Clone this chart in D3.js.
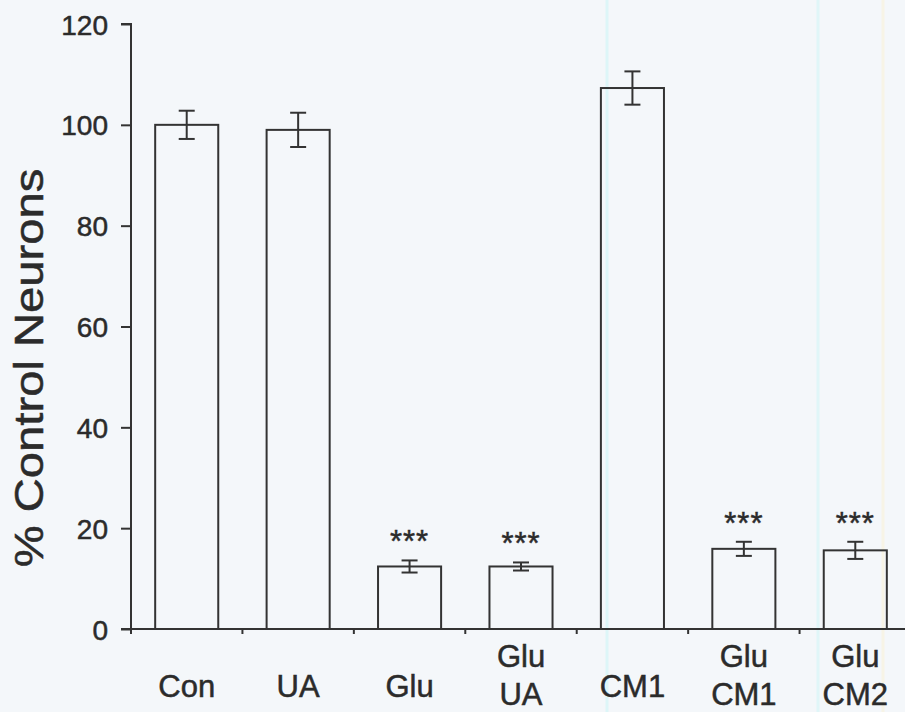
<!DOCTYPE html>
<html>
<head>
<meta charset="utf-8">
<script src="https://cdn.jsdelivr.net/npm/d3@7"></script>
<style>
  html, body { margin: 0; padding: 0; background: #f4f7fa; }
  svg { display: block; }
  text { font-family: "Liberation Sans", Arial, sans-serif; fill: #2b2b2b; stroke: #2b2b2b; stroke-width: 0.5px; }
</style>
</head>
<body>
<svg id="chart" width="905" height="712"></svg>
<script>
// Treatment groups (a space separates the two label lines)
const categories = ["Con", "UA", "Glu", "Glu UA", "CM1", "Glu CM1", "Glu CM2"];
// Surviving neurons, % of control (mean and SEM)
const means = [100, 99.0, 12.4, 12.4, 107.3, 15.9, 15.6];
const errors = [2.8, 3.4, 1.2, 0.8, 3.3, 1.4, 1.7];
// Significance markers versus control
const significance = ["", "", "***", "***", "", "***", "***"];
// Y axis ticks
const yTicks = [0, 20, 40, 60, 80, 100, 120];
const yLabel = "% Control Neurons";

const width = 905, height = 712;
const margin = { left: 131, top: 24, bottom: 83 };
const plotBottom = height - margin.bottom;   // y of zero line
const ink = "#333";

const svg = d3.select("#chart");

// paper background
svg.append("rect").attr("width", width).attr("height", height).attr("fill", "#f4f7fa");
// faint vertical streaks in the paper
[[607, "#ddf6f8"], [818, "#e0f6f8"], [883, "#f7f4e6"]].forEach(([x, c]) => {
  svg.append("line").attr("x1", x).attr("x2", x).attr("y1", 0).attr("y2", height)
    .attr("stroke", c).attr("stroke-width", 3);
});

const x = d3.scaleBand()
  .domain(categories)
  .range([margin.left, margin.left + 780])
  .paddingInner(0.434)
  .paddingOuter(0.217);

const y = d3.scaleLinear().domain([0, 120]).range([plotBottom, margin.top]);

// bars
svg.append("g").selectAll("rect")
  .data(categories)
  .join("rect")
  .attr("x", d => x(d))
  .attr("y", (d, i) => y(means[i]))
  .attr("width", x.bandwidth())
  .attr("height", (d, i) => y(0) - y(means[i]))
  .attr("fill", "none")
  .attr("stroke", ink)
  .attr("stroke-width", 2);

// error bars
const eb = svg.append("g").attr("stroke", ink).attr("stroke-width", 2);
categories.forEach((c, i) => {
  const cx = x(c) + x.bandwidth() / 2;
  const hi = y(means[i] + errors[i]), lo = y(means[i] - errors[i]);
  eb.append("line").attr("x1", cx).attr("x2", cx).attr("y1", hi).attr("y2", lo);
  eb.append("line").attr("x1", cx - 8).attr("x2", cx + 8).attr("y1", hi).attr("y2", hi);
  eb.append("line").attr("x1", cx - 8).attr("x2", cx + 8).attr("y1", lo).attr("y2", lo);
});

// significance stars
categories.forEach((c, i) => {
  if (!significance[i]) return;
  const cx = x(c) + x.bandwidth() / 2;
  const top = y(means[i] + errors[i]);
  svg.append("text")
    .attr("x", cx)
    .attr("y", top - 8)
    .attr("text-anchor", "middle")
    .attr("font-size", 31)
    .attr("letter-spacing", 1)
    .text(significance[i]);
});

// y axis
const yAxis = d3.axisLeft(y).tickValues(yTicks).tickSize(10).tickPadding(13);
const gy = svg.append("g").attr("transform", `translate(${margin.left},0)`).call(yAxis);
gy.select(".domain").attr("stroke", ink).attr("stroke-width", 2).attr("d", `M-10,${y(120)}H0V${y(0)}`);
gy.selectAll(".tick line").attr("stroke", ink).attr("stroke-width", 2);
gy.selectAll(".tick text")
  .attr("font-size", 28)
  .attr("dy", "0.36em");

// x axis: line with ticks at group boundaries
const gx = svg.append("g").attr("stroke", ink).attr("stroke-width", 2);
gx.append("line").attr("x1", margin.left - 10).attr("x2", width)
  .attr("y1", y(0)).attr("y2", y(0));
const boundaries = categories.map(c => x(c) - x.step() * x.paddingInner() / 2);
gx.selectAll(".bt").data(boundaries).join("line")
  .attr("x1", d => d).attr("x2", d => d)
  .attr("y1", y(0)).attr("y2", y(0) + 5);

// category labels
categories.forEach(c => {
  const cx = x(c) + x.bandwidth() / 2;
  const lines = c.split(" ");
  const base = lines.length === 1 ? 697 : 667;
  lines.forEach((t, j) => {
    svg.append("text")
      .attr("x", cx)
      .attr("y", base + j * 38)
      .attr("text-anchor", "middle")
      .attr("font-size", 31)
      .text(t);
  });
});

// y axis title
svg.append("text")
  .attr("transform", `translate(43,368) rotate(-90) scale(1.18,1)`)
  .attr("text-anchor", "middle")
  .attr("font-size", 40)
  .text(yLabel);
</script>
</body>
</html>
